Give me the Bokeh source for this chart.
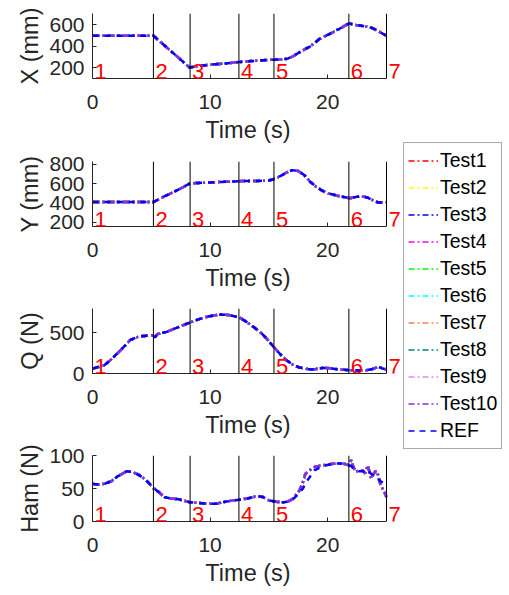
from bokeh.plotting import figure
from bokeh.models import Range1d, FixedTicker, Span, Label, ColumnDataSource, Legend, LegendItem
from bokeh.layouts import row, column
from bokeh.embed import file_html
from bokeh.resources import INLINE

FONT = "Liberation Sans"
AX = "#262626"

# ---------------- data ----------------
EVENTS = [5.18, 8.3, 12.45, 15.43, 21.8, 25.0]
PHASES = ["1", "2", "3", "4", "5", "6", "7"]
X_TICKS = [0, 10, 20]
T_END = 25.0

X_T = [0, 5.18, 8.25, 9.0, 10.0, 11.0, 12.0, 13.0, 14.0, 15.0, 16.0, 16.6, 17.0, 17.5, 18.0,
       18.5, 19.3, 20.4, 21.0, 21.8, 22.4, 23.0, 23.6, 24.1, 25.0]
X_MM = [500, 500, 205, 218, 230, 240, 250, 260, 268, 276, 280, 287, 305, 340, 370,
        400, 470, 530, 565, 615, 600, 590, 580, 555, 500]

Y_T = [0, 5.18, 5.5, 6.3, 7.0, 7.5, 8.25, 9, 10, 11, 12, 13, 14, 15, 15.5, 16, 16.5, 17,
       17.5, 18, 18.5, 19, 19.5, 20, 21, 21.9, 22.5, 22.9, 23.4, 23.9, 24.3, 25.0]
Y_MM = [410, 410, 430, 480, 520, 550, 600, 608, 612, 618, 622, 628, 628, 632, 650, 680, 715, 740,
        730, 690, 620, 570, 530, 500, 470, 450, 465, 472, 455, 425, 405, 408]

Q_T = [0, 1.0, 1.5, 2.1, 2.7, 3.2, 3.7, 4.1, 4.6, 5.15, 5.3, 5.5, 6.3, 7.2, 8.2, 9.0, 9.7,
       10.3, 10.9, 11.3, 11.7, 12.5, 13.1, 13.7, 14.3, 14.8, 15.4, 16.0, 16.5, 17.0, 17.6,
       18.5, 19.0, 19.6, 20.2, 20.8, 21.4, 21.9, 22.6, 23.3, 23.8, 24.3, 24.6, 25.0]
Q_N = [60, 100, 160, 244, 330, 406, 440, 455, 462, 467, 440, 480, 508, 560, 617, 660, 690,
       708, 720, 718, 711, 683, 630, 568, 500, 427, 325, 230, 162, 110, 73,
       49, 55, 69, 65, 52, 45, 40, 38, 40, 55, 81, 65, 49]

HAM_T = [0, 0.5, 1.0, 1.6, 2.1, 2.5, 2.9, 3.4, 3.9, 4.4, 4.8, 5.15, 5.6, 6.1, 6.6, 7.2, 7.7,
         8.3, 9.0, 9.7, 10.5, 11.3, 12.0, 12.5, 13.2, 13.9, 14.2, 14.5, 15.0, 15.6, 16.2,
         16.6, 17.0, 17.3, 17.6, 17.9, 18.1, 18.5, 18.9, 19.6, 20.3, 20.7, 21.1, 21.5, 21.8,
         22.0, 22.2, 22.4, 22.7, 23.0, 23.2, 23.4, 23.7, 23.9, 24.1, 24.3, 24.5, 24.8, 25.0]
HAM_TEST = [57, 56, 57, 61, 68, 72, 76, 75, 71, 65, 58, 51, 45, 37, 35, 34, 32,
            29, 28, 27, 27, 30, 32, 33, 35, 38, 38, 37, 32, 30, 29,
            30, 34, 40, 47, 60, 72, 78, 83, 85, 87, 88, 88, 87, 85,
            93, 82, 75, 78, 77, 73, 85, 65, 72, 77, 70, 55, 45, 37]
HAM_REF = [57, 56, 57, 61, 68, 72, 76, 75, 71, 65, 58, 51, 45, 37, 35, 34, 32,
           29, 28, 27, 27, 30, 32, 33, 35, 38, 38, 37, 32, 30, 29,
           30, 33, 38, 44, 50, 58, 68, 78, 84, 87, 88, 88, 87, 85,
           84, 80, 77, 76, 76, 75, 78, 72, 70, 68, 64, 61, 58, 57]

TEST_NAMES = ["Test1", "Test2", "Test3", "Test4", "Test5", "Test6", "Test7", "Test8", "Test9", "Test10"]
TEST_COLORS = ["#FF0000", "#FFFF00", "#0000FF", "#FF00FF", "#00FF00", "#00FFFF",
               "#FF7F50", "#008080", "#EE82EE", "#8A2BE2"]
REF_COLOR = "#0000FF"

PANELS = [
    dict(t=X_T, test=X_MM, ref=X_MM, label="X (mm)", yr=(102, 707), ticks=[200, 400, 600]),
    dict(t=Y_T, test=Y_MM, ref=Y_MM, label="Y (mm)", yr=(157, 829), ticks=[200, 400, 600, 800]),
    dict(t=Q_T, test=Q_N, ref=Q_N, label="Q (N)", yr=(0, 793), ticks=[0, 500]),
    dict(t=HAM_T, test=HAM_TEST, ref=HAM_REF, label="Ham (N)", yr=(0, 100), ticks=[0, 50, 100]),
]
HEIGHTS = [148, 147, 147, 148]
FRAME_H = [65, 65, 65, 66]

TEST_DASH = "7 3 2 3"
REF_DASH = "6 6"

PANEL_W = 403
LEG_W = 509 - PANEL_W
FRAME_W = PANEL_W - 92   # frame spans to the canvas edge so that the "7" label has room
AXIS_W = 294             # the time axis itself covers 0..T_END over this many pixels


def make_panel(cfg, h, fh):
    p = figure(width=PANEL_W, height=h, output_backend="svg", toolbar_location=None,
               x_range=Range1d(0, T_END * FRAME_W / AXIS_W), y_range=Range1d(*cfg["yr"]),
               min_border_left=92, min_border_right=0, min_border_top=13,
               min_border_bottom=h - 13 - fh)
    p.outline_line_color = None
    p.grid.visible = False
    p.xaxis.ticker = FixedTicker(ticks=X_TICKS)
    p.xaxis.bounds = (0, T_END)
    p.yaxis.ticker = FixedTicker(ticks=cfg["ticks"])
    p.xaxis.axis_label = "Time (s)"
    p.yaxis.axis_label = cfg["label"]
    for ax in (p.xaxis, p.yaxis):
        ax.axis_line_color = AX
        ax.major_tick_line_color = AX
        ax.major_tick_in = 4
        ax.major_tick_out = 0
        ax.minor_tick_line_color = None
        ax.major_label_text_font = FONT
        ax.major_label_text_font_size = "21px"
        ax.major_label_text_color = AX
        ax.axis_label_text_font = FONT
        ax.axis_label_text_font_size = "23.5px"
        ax.axis_label_text_font_style = "normal"
        ax.axis_label_text_color = AX
    p.xaxis.major_label_standoff = 16
    p.xaxis.axis_label_standoff = 5
    p.yaxis.major_label_standoff = 8
    p.yaxis.axis_label_standoff = 3

    src = ColumnDataSource(dict(t=cfg["t"], test=cfg["test"], ref=cfg["ref"]))
    for c in TEST_COLORS:
        p.line("t", "test", source=src, line_color=c, line_width=2.5, line_dash=TEST_DASH)
    p.line("t", "ref", source=src, line_color=REF_COLOR, line_width=2.5, line_dash=REF_DASH)

    for e in EVENTS:
        p.add_layout(Span(location=e, dimension="height", line_color="black", line_width=1))

    for xpos, txt in zip([0] + EVENTS, PHASES):
        p.add_layout(Label(x=xpos, y=cfg["yr"][0], text=txt, x_offset=2, y_offset=0,
                           text_font=FONT, text_font_size="22px", text_color="#FF0000",
                           text_baseline="bottom", text_align="left"))
    return p


panels = [make_panel(cfg, h, fh) for cfg, h, fh in zip(PANELS, HEIGHTS, FRAME_H)]

# legend panel: hidden renderers carrying the X series, shown only as legend glyphs
pl = figure(width=LEG_W, height=590, output_backend="svg", toolbar_location=None,
            x_range=Range1d(0, 1), y_range=Range1d(0, 1), min_border=0,
            x_axis_location=None, y_axis_location=None)
pl.outline_line_color = None
pl.grid.visible = False
lsrc = ColumnDataSource(dict(t=X_T, v=X_MM))
items = []
for name, c in zip(TEST_NAMES, TEST_COLORS):
    r = pl.line("t", "v", source=lsrc, line_color=c, line_width=1.5, line_dash="6 3 2 3", visible=False)
    items.append(LegendItem(label=name, renderers=[r]))
r = pl.line("t", "v", source=lsrc, line_color=REF_COLOR, line_width=1.5, line_dash="6 5", visible=False)
items.append(LegendItem(label="REF", renderers=[r]))
leg = Legend(items=items, location=(0, 141), glyph_width=30, glyph_height=27, label_height=27,
             label_standoff=2, spacing=0, padding=4, margin=0,
             label_text_font=FONT, label_text_font_size="19.5px", label_text_color="black",
             border_line_color="#555555", border_line_width=1, background_fill_alpha=1,
             inactive_fill_alpha=0)
pl.add_layout(leg)

layout = row(column(*panels), pl)
open("out.html", "w").write(file_html(layout, INLINE))
